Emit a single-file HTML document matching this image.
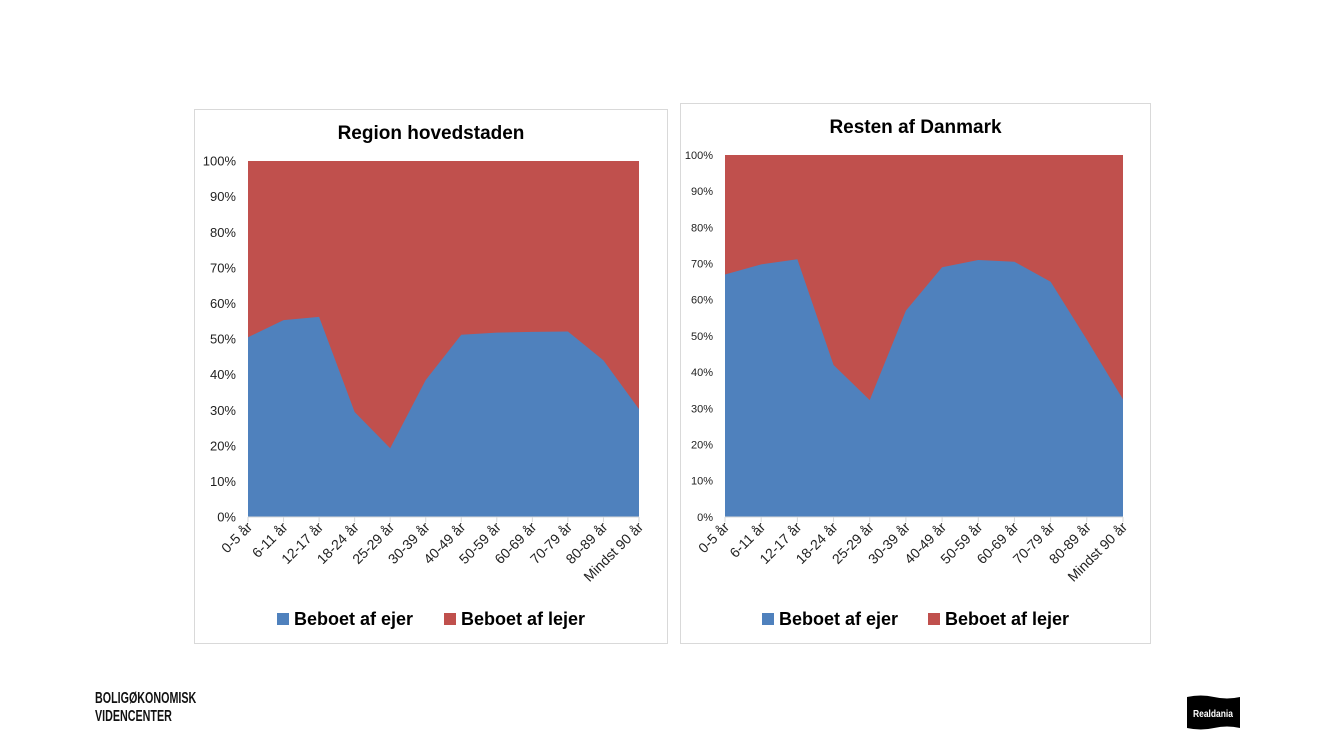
<!DOCTYPE html>
<html><head><meta charset="utf-8"><style>
html,body{margin:0;padding:0;background:#fff;width:1333px;height:750px;overflow:hidden;font-family:"Liberation Sans",sans-serif}
.logo{position:absolute;left:95px;top:690px;font-family:"Liberation Sans Narrow","Liberation Sans",sans-serif;font-weight:bold;font-size:16px;line-height:18px;letter-spacing:0px;transform:scaleX(0.67);transform-origin:left top;color:#111}
</style></head><body>
<svg id="svg" width="1333" height="750" style="position:absolute;left:0;top:0"></svg>
<div class="logo">BOLIGØKONOMISK<br>VIDENCENTER</div>
<svg width="60" height="40" style="position:absolute;left:1184px;top:693px">
<path d="M3 4 Q17 1 30 4 T56 4 L56 35 Q43 32 30 35 T3 35 Z" fill="#000"/>
<text x="29" y="24" font-family="Liberation Sans" font-weight="bold" font-size="10" fill="#fff" text-anchor="middle" textLength="40" lengthAdjust="spacingAndGlyphs">Realdania</text>
</svg>
<script>
const categories=["0-5 år","6-11 år","12-17 år","18-24 år","25-29 år","30-39 år","40-49 år","50-59 år","60-69 år","70-79 år","80-89 år","Mindst 90 år"];
const ownerHovedstaden=[50.5,55.3,56.2,29.5,19.3,38.5,51.2,51.8,52,52.1,44,30.3];
const ownerResten=[67,69.8,71.2,42,32.3,57,69,71,70.5,65,49,32.5];
const yTicks=[0,10,20,30,40,50,60,70,80,90,100];
const seriesNames=["Beboet af ejer","Beboet af lejer"];
const NS="http://www.w3.org/2000/svg";
const svg=document.getElementById('svg');
function mk(tag,attrs,parent){const e=document.createElementNS(NS,tag);for(const k in attrs)e.setAttribute(k,attrs[k]);(parent||svg).appendChild(e);return e;}
function chart(cfg,values){
  const g=mk('g',{});
  
  
  const fr=mk('rect',{x:cfg.fx,y:cfg.fy,width:cfg.fw,height:cfg.fh,fill:'#fff',stroke:'#d9d9d9','stroke-width':1},g);
  
  
  const t=mk('text',{x:(cfg.fx+cfg.fw/2),y:cfg.ty,'font-size':19,'font-weight':'bold','text-anchor':'middle',fill:'#000'},g);
  t.textContent=cfg.title;
  
  
  const xs=i=>cfg.x0+(cfg.x1-cfg.x0)*i/(categories.length-1);
  const ys=v=>cfg.y0+(cfg.y1-cfg.y0)*v/100;
  const top=mk('rect',{x:cfg.x0,y:ys(100),width:cfg.x1-cfg.x0,height:ys(0)-ys(100),fill:'#c0504d'},g);
  
  
  let d='M'+xs(0)+' '+ys(0);
  values.forEach((v,i)=>{d+=' L'+xs(i)+' '+ys(v);});
  d+=' L'+xs(values.length-1)+' '+ys(0)+' Z';
  const a=mk('path',{d:d,fill:'#4f81bd'},g);
  
  
  mk('line',{x1:cfg.x0,x2:cfg.x1,y1:ys(0),y2:ys(0),stroke:'#d9d9d9'},g);
  yTicks.forEach(v=>{
    const tt=mk('text',{x:cfg.x0-12,y:ys(v)+cfg.fs*0.35,'font-size':cfg.fs,'text-anchor':'end',fill:'#222'},g);
    tt.textContent=v+'%';
    
    
  });
  categories.forEach((c,i)=>{
    const x=xs(i);
    mk('line',{x1:x,x2:x,y1:ys(0),y2:ys(0)+5,stroke:'#d9d9d9'},g);
    const tt=mk('text',{x:x+5,y:ys(0)+11,'font-size':cfg.xfs,'text-anchor':'end',fill:'#222',transform:'rotate(-45 '+(x+5)+' '+(ys(0)+11)+')'},g);
    tt.textContent=c;
    
    
  });
  const colors=['#4f81bd','#c0504d'];
  seriesNames.forEach((n,i)=>{
    const lx=cfg.lx[i];
    const sq=mk('rect',{x:lx,y:cfg.ly-12,width:12,height:12,fill:colors[i]},g);
    
    
    const lt=mk('text',{x:lx+17,y:cfg.ly,'font-size':18,'font-weight':'bold',fill:'#000'},g);
    lt.textContent=n;
    
    
  });
}
chart({name:'chart-region-hovedstaden',title:'Region hovedstaden',fx:194.5,fy:109.5,fw:473,fh:534,ty:139,x0:248,x1:639,y0:517,y1:161,fs:13,xfs:14,lx:[277,444],ly:625},ownerHovedstaden);
chart({name:'chart-resten-af-danmark',title:'Resten af Danmark',fx:680.5,fy:103.5,fw:470,fh:540,ty:133,x0:725,x1:1123,y0:517,y1:155,fs:11,xfs:14,lx:[762,928],ly:625},ownerResten);
</script>
</body></html>
